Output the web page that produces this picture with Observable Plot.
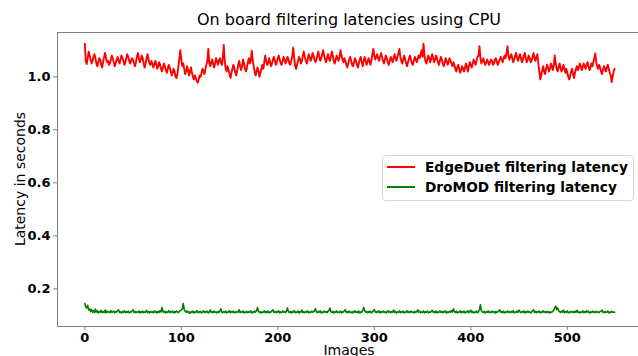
<!DOCTYPE html>
<html>
<head>
<meta charset="utf-8">
<script src="https://cdn.jsdelivr.net/npm/d3@7"></script>
<script src="https://cdn.jsdelivr.net/npm/@observablehq/plot@0.6"></script>
<style>
  html, body { margin: 0; padding: 0; background: white; }
  #chart svg { display: block; }
</style>
</head>
<body>
<div id="chart"></div>
<script>
const chartTitle = "On board filtering latencies using CPU";
const xLabel = "Images";
const yLabel = "Latency in seconds";
const seriesNames = ["EdgeDuet filtering latency", "DroMOD filtering latency"];
const seriesColors = ["red", "green"];
const xTicks = [0, 100, 200, 300, 400, 500];
const yTicks = [0.2, 0.4, 0.6, 0.8, 1.0];

// EdgeDuet latency per image (seconds)
const edgeDuet = [
1.125,1.06,1.048,1.07,1.095,1.08,1.065,1.05,1.06,1.075,
1.085,1.07,1.05,1.04,1.055,1.07,1.065,1.045,1.035,1.055,
1.075,1.09,1.07,1.055,1.06,1.045,1.05,1.065,1.08,1.07,
1.055,1.04,1.05,1.065,1.075,1.06,1.05,1.065,1.08,1.07,
1.06,1.045,1.055,1.07,1.085,1.075,1.06,1.05,1.06,1.07,
1.065,1.05,1.04,1.055,1.075,1.09,1.07,1.055,1.065,1.08,
1.07,1.05,1.035,1.05,1.07,1.085,1.065,1.05,1.045,1.06,
1.05,1.035,1.045,1.06,1.05,1.03,1.04,1.055,1.045,1.03,
1.02,1.035,1.05,1.04,1.025,1.015,1.03,1.045,1.035,1.02,
1.005,1.015,1.03,1.02,1.0,0.995,1.01,1.04,1.07,1.1,
1.065,1.04,1.05,1.03,1.01,1.02,1.04,1.025,1.005,1.02,
1.035,1.015,1.0,0.99,1.005,0.995,0.985,0.978,0.99,1.005,
1.0,1.015,1.03,1.02,1.01,1.03,1.045,1.06,1.105,1.05,
1.04,1.055,1.065,1.05,1.035,1.05,1.07,1.06,1.045,1.06,
1.07,1.055,1.045,1.07,1.12,1.06,1.03,1.02,1.04,1.025,
1.01,0.995,1.015,1.03,1.045,1.03,1.015,1.005,1.025,1.045,
1.06,1.04,1.025,1.04,1.065,1.05,1.03,1.02,1.035,1.055,
1.07,1.05,1.06,1.098,1.065,1.04,1.02,1.005,1.02,1.035,
1.02,1.0,1.015,1.03,1.045,1.03,1.055,1.08,1.06,1.045,
1.05,1.07,1.055,1.04,1.05,1.065,1.075,1.06,1.045,1.055,
1.07,1.08,1.065,1.05,1.045,1.06,1.075,1.065,1.05,1.06,
1.075,1.065,1.05,1.045,1.06,1.08,1.11,1.07,1.04,1.03,
1.045,1.06,1.075,1.065,1.05,1.06,1.08,1.095,1.075,1.06,
1.05,1.065,1.085,1.075,1.06,1.07,1.09,1.08,1.065,1.055,
1.065,1.08,1.095,1.075,1.06,1.07,1.085,1.1,1.08,1.065,
1.055,1.07,1.085,1.07,1.06,1.075,1.095,1.08,1.06,1.05,
1.065,1.08,1.07,1.06,1.075,1.1,1.08,1.065,1.055,1.07,
1.06,1.045,1.035,1.05,1.065,1.075,1.06,1.045,1.04,1.055,
1.07,1.06,1.045,1.035,1.05,1.065,1.075,1.055,1.04,1.06,
1.075,1.06,1.045,1.055,1.07,1.06,1.045,1.06,1.085,1.105,
1.08,1.065,1.075,1.085,1.07,1.06,1.075,1.09,1.075,1.06,
1.05,1.065,1.08,1.07,1.055,1.045,1.06,1.075,1.065,1.055,
1.07,1.085,1.07,1.06,1.075,1.09,1.105,1.075,1.06,1.05,
1.065,1.08,1.065,1.05,1.04,1.055,1.07,1.08,1.065,1.05,
1.045,1.06,1.075,1.065,1.055,1.07,1.08,1.07,1.085,1.1,
1.075,1.125,1.08,1.06,1.05,1.065,1.08,1.07,1.055,1.07,
1.085,1.07,1.055,1.065,1.08,1.07,1.055,1.045,1.06,1.075,
1.065,1.05,1.04,1.055,1.07,1.06,1.045,1.055,1.07,1.06,
1.05,1.04,1.055,1.045,1.03,1.02,1.035,1.045,1.03,1.015,
1.025,1.04,1.03,1.02,1.035,1.05,1.035,1.02,1.04,1.055,
1.045,1.035,1.05,1.065,1.055,1.045,1.06,1.075,1.08,1.115,
1.07,1.05,1.06,1.07,1.055,1.045,1.055,1.065,1.055,1.045,
1.055,1.065,1.06,1.045,1.05,1.065,1.07,1.055,1.045,1.055,
1.065,1.075,1.065,1.055,1.07,1.08,1.07,1.09,1.115,1.08,
1.065,1.075,1.085,1.07,1.055,1.065,1.08,1.09,1.07,1.06,
1.075,1.085,1.07,1.055,1.065,1.08,1.09,1.07,1.055,1.065,
1.08,1.07,1.055,1.06,1.075,1.09,1.07,1.06,1.075,1.085,
1.05,1.02,0.99,1.005,1.025,1.04,1.02,1.01,1.03,1.045,
1.035,1.02,1.03,1.05,1.04,1.025,1.045,1.08,1.05,1.03,
1.02,1.035,1.05,1.035,1.02,1.03,1.045,1.03,1.015,1.03,
1.015,1.0,0.99,1.005,1.02,1.03,1.01,0.995,1.015,1.03,
1.04,1.025,1.035,1.05,1.04,1.025,1.035,1.05,1.04,1.03,
1.045,1.055,1.04,1.025,1.035,1.05,1.04,1.055,1.07,1.088,
1.055,1.04,1.03,1.045,1.035,1.02,1.01,1.025,1.04,1.03,
1.02,1.035,1.045,1.03,1.015,1.005,0.98,1.0,1.02,1.03
];

// DroMOD latency per image (seconds)
const droMOD = [
.145,.13,.128,.138,.12,.125,.115,.122,.112,.118,
.11,.124,.113,.117,.109,.115,.112,.119,.11,.114,
.111,.12,.109,.116,.112,.114,.11,.118,.111,.113,
.116,.11,.114,.112,.118,.121,.111,.113,.109,.115,
.112,.117,.11,.114,.111,.116,.109,.113,.112,.118,
.121,.111,.115,.11,.113,.112,.117,.109,.114,.111,
.116,.11,.113,.112,.119,.111,.114,.109,.115,.112,
.113,.11,.117,.112,.114,.109,.116,.111,.118,.113,
.13,.114,.111,.116,.109,.113,.112,.118,.11,.114,
.112,.116,.109,.114,.111,.117,.113,.11,.115,.118,
.12,.124,.145,.122,.115,.112,.117,.11,.113,.108,
.114,.111,.116,.109,.113,.112,.118,.11,.114,.111,
.115,.109,.113,.117,.11,.114,.112,.116,.109,.113,
.12,.111,.114,.11,.116,.112,.113,.109,.115,.111,
.117,.125,.112,.11,.114,.111,.116,.109,.113,.112,
.118,.11,.114,.112,.116,.109,.113,.111,.115,.112,
.121,.11,.114,.112,.117,.109,.113,.111,.115,.11,
.114,.112,.117,.109,.113,.111,.116,.112,.118,.13,
.115,.111,.114,.109,.113,.112,.117,.11,.114,.111,
.116,.109,.113,.112,.118,.121,.111,.114,.11,.115,
.112,.117,.109,.113,.111,.116,.112,.114,.11,.117,
.128,.113,.111,.115,.109,.114,.112,.118,.11,.113,
.111,.116,.109,.114,.112,.12,.111,.113,.11,.115,
.112,.117,.109,.113,.111,.116,.112,.114,.118,.125,
.113,.11,.115,.112,.117,.109,.113,.111,.116,.112,
.114,.11,.116,.119,.128,.113,.111,.115,.109,.114,
.112,.117,.11,.113,.111,.116,.109,.114,.112,.118,
.121,.111,.114,.11,.116,.112,.113,.109,.115,.111,
.117,.112,.114,.11,.116,.109,.113,.112,.119,.13,
.118,.112,.115,.11,.114,.111,.116,.109,.113,.117,
.122,.113,.11,.115,.112,.117,.109,.114,.111,.116,
.112,.114,.109,.113,.117,.111,.115,.11,.114,.112,
.12,.111,.115,.109,.113,.112,.117,.11,.114,.111,
.116,.109,.113,.112,.118,.11,.114,.111,.116,.112,
.113,.109,.115,.111,.114,.121,.112,.116,.11,.113,
.111,.117,.109,.114,.112,.116,.11,.113,.111,.115,
.119,.112,.114,.11,.116,.109,.113,.112,.117,.111,
.114,.11,.115,.112,.117,.109,.113,.111,.116,.112,
.118,.113,.125,.114,.111,.116,.109,.113,.112,.117,
.11,.114,.111,.116,.109,.113,.112,.118,.11,.114,
.12,.111,.115,.109,.113,.112,.116,.11,.114,.122,
.14,.118,.113,.111,.115,.109,.114,.112,.117,.11,
.113,.111,.116,.112,.114,.109,.115,.111,.113,.117,
.121,.112,.114,.11,.116,.109,.113,.112,.117,.111,
.114,.11,.115,.112,.118,.109,.113,.111,.116,.112,
.12,.113,.11,.115,.112,.117,.109,.114,.111,.116,
.112,.114,.109,.113,.118,.121,.111,.115,.11,.114,
.112,.116,.109,.113,.111,.117,.112,.114,.11,.115,
.111,.114,.109,.113,.112,.116,.119,.128,.135,.122,
.128,.118,.114,.111,.116,.112,.12,.11,.114,.112,
.117,.109,.113,.111,.115,.112,.114,.11,.116,.112,
.119,.111,.114,.109,.113,.112,.117,.11,.114,.111,
.118,.112,.115,.109,.113,.111,.116,.112,.114,.11,
.115,.112,.113,.11,.114,.116,.12,.111,.113,.11,
.114,.112,.116,.109,.113,.111,.115,.112,.113,.112
];

const xDomain = [-28.3, 573.8];
const yDomain = [0.058, 1.167];
const spine = "#808080";
const font = "DejaVu Sans";

const plot = Plot.plot({
  width: 638,
  height: 356,
  marginLeft: 57,
  marginRight: 0,
  marginTop: 32,
  marginBottom: 30,
  style: { fontFamily: font, background: "white", color: "black" },
  x: { domain: xDomain },
  y: { domain: yDomain },
  marks: [
    Plot.axisX({ ticks: xTicks, tickSize: 4, tickPadding: 2, fontSize: 13, fontWeight: "bold", label: null, stroke: spine }),
    Plot.axisY({ ticks: yTicks, tickSize: 4, tickPadding: 3, fontSize: 13, fontWeight: "bold", label: null, stroke: spine, tickFormat: d => d.toFixed(1) }),
    Plot.ruleX([xDomain[0]], { stroke: spine, strokeWidth: 1 }),
    Plot.ruleY(yDomain, { stroke: spine, strokeWidth: 1 }),
    Plot.lineY(edgeDuet, { stroke: seriesColors[0], strokeWidth: 1.9 }),
    Plot.lineY(droMOD, { stroke: seriesColors[1], strokeWidth: 1.6 })
  ]
});

document.getElementById("chart").appendChild(plot);

const svg = d3.select(plot);
svg.selectAll("text").attr("fill", "black");

// Title
svg.append("text")
  .attr("x", 349).attr("y", 25)
  .attr("text-anchor", "middle")
  .attr("font-family", font).attr("font-size", 16).attr("fill", "black")
  .text(chartTitle);

// Axis labels
svg.append("text")
  .attr("x", 349).attr("y", 355)
  .attr("text-anchor", "middle")
  .attr("font-family", font).attr("font-size", 14).attr("fill", "black")
  .text(xLabel);

svg.append("text")
  .attr("transform", "translate(25,179) rotate(-90)")
  .attr("text-anchor", "middle")
  .attr("font-family", font).attr("font-size", 14).attr("fill", "black")
  .text(yLabel);

// Legend
const lg = svg.append("g");
lg.append("rect")
  .attr("x", 382.5).attr("y", 155.5).attr("width", 251).attr("height", 45)
  .attr("rx", 3).attr("fill", "white").attr("fill-opacity", 0.8)
  .attr("stroke", "#d6d6d6").attr("stroke-width", 1);
seriesNames.forEach((name, i) => {
  const cy = 167 + i * 20;
  lg.append("line")
    .attr("x1", 387).attr("x2", 415).attr("y1", cy).attr("y2", cy)
    .attr("stroke", seriesColors[i]).attr("stroke-width", 2);
  lg.append("text")
    .attr("x", 425).attr("y", cy + 5)
    .attr("text-anchor", "start")
    .attr("font-family", font).attr("font-size", 13.7).attr("font-weight", "bold")
    .attr("fill", "black")
    .text(name);
});
</script>
</body>
</html>
